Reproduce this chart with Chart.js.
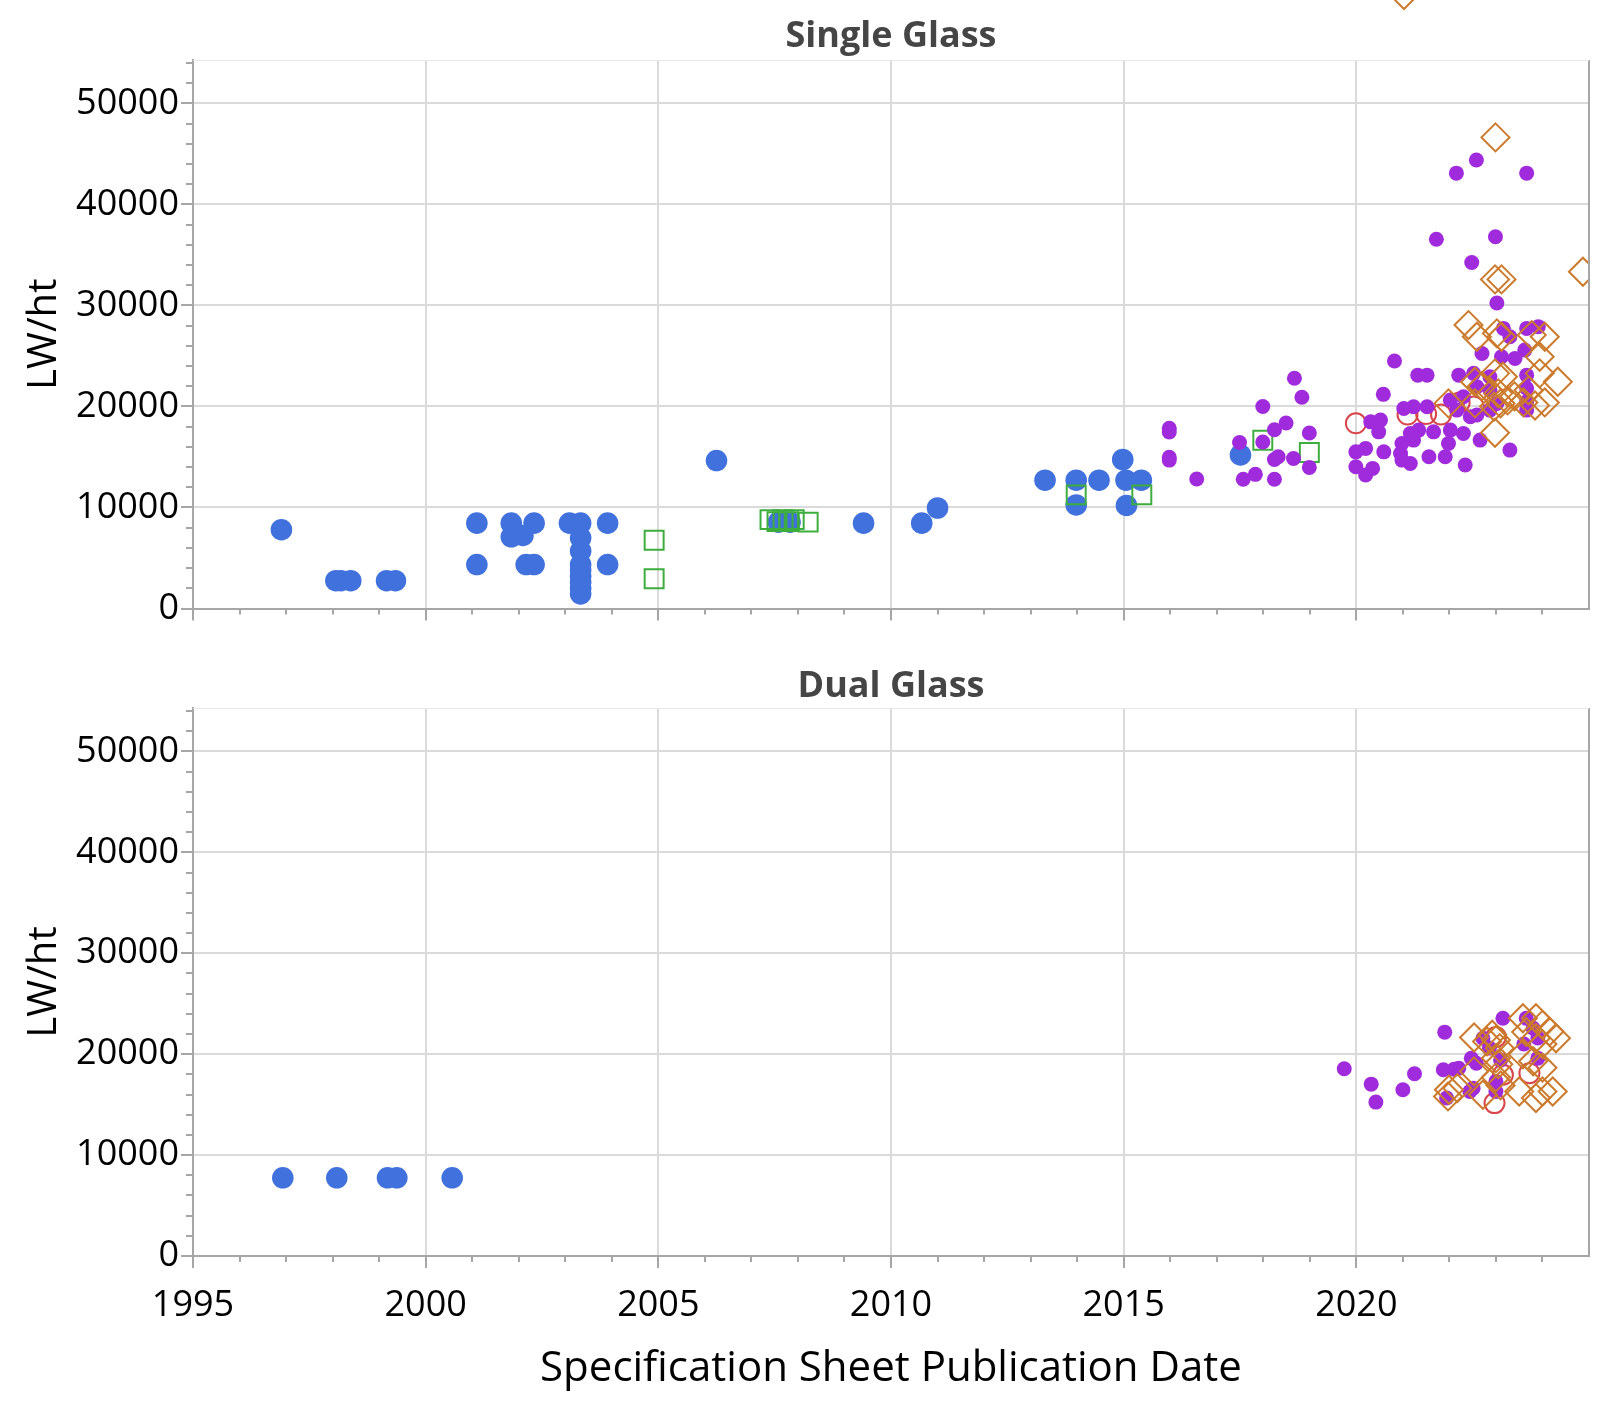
<!DOCTYPE html>
<html>
<head>
<meta charset="utf-8">
<script src="https://cdn.jsdelivr.net/npm/chart.js@4.4.1/dist/chart.umd.min.js"></script>
<style>
  html, body { margin: 0; padding: 0; background: #fff; }
  #wrap { position: relative; width: 1605px; height: 1403px; }
  canvas { position: absolute; left: 0; }
  #singleChart { top: 0; }
  #dualChart { top: 648px; }
</style>
</head>
<body>
<div id="wrap">
  <canvas id="singleChart" width="1605" height="648"></canvas>
  <canvas id="dualChart" width="1605" height="755"></canvas>
</div>
<script>
// axis labels
const yearLabels = [1995, 2000, 2005, 2010, 2015, 2020];
const lwLabels = [0, 10000, 20000, 30000, 40000, 50000];

// ---- single glass modules: [publication year, LW/ht] ----
const singleBlue = [
  [1996.9, 7800],
  [1998.07, 2750], [1998.18, 2750], [1998.39, 2750],
  [1999.16, 2750], [1999.35, 2750],
  [2001.1, 8450], [2001.1, 4350],
  [2001.84, 8450], [2002.33, 8450], [2001.84, 7100], [2002.09, 7230],
  [2002.16, 4350], [2002.33, 4350],
  [2003.09, 8450], [2003.33, 8450], [2003.33, 7000], [2003.33, 5700],
  [2003.33, 4350], [2003.33, 3800], [2003.33, 3200], [2003.33, 2600],
  [2003.33, 2000], [2003.33, 1450],
  [2003.91, 8450], [2003.91, 4350],
  [2006.25, 14650],
  [2007.58, 8550], [2007.83, 8550],
  [2009.41, 8450],
  [2010.66, 8450], [2011.0, 9950],
  [2013.31, 12700], [2013.98, 12700], [2013.98, 10250],
  [2014.47, 12700], [2014.98, 14750],
  [2015.05, 12700], [2015.38, 12700], [2015.06, 10200],
  [2017.51, 15200]
];

const singleGreen = [
  [2004.91, 6750], [2004.91, 2950],
  [2007.40, 8800], [2007.55, 8600], [2007.68, 8800], [2007.80, 8600],
  [2007.92, 8800], [2008.22, 8550],
  [2013.98, 11250], [2015.39, 11250],
  [2017.99, 16650], [2018.99, 15450]
];

const singleRed = [
  [2019.99, 18330], [2021.1, 19200], [2021.5, 19250], [2021.82, 19200],
  [2022.22, 20400], [2022.52, 20000]
];

const singlePurple = [
  [2015.98, 17850], [2015.98, 17480], [2015.98, 14970], [2015.98, 14690],
  [2016.57, 12820],
  [2017.49, 16430], [2017.57, 12790], [2017.83, 13280],
  [2017.99, 20000], [2017.99, 16490],
  [2018.24, 17700], [2018.49, 18360], [2018.24, 14750], [2018.32, 15020],
  [2018.24, 12790], [2018.65, 14850], [2018.67, 22800], [2018.83, 20920],
  [2018.99, 17380], [2018.99, 13970],
  [2022.58, 44400], [2022.15, 43100], [2023.66, 43100],
  [2021.72, 36550], [2022.99, 36800], [2022.48, 34250], [2023.02, 30250],
  [2020.82, 24500], [2021.32, 23100], [2021.52, 23100], [2020.58, 21200],
  [2023.16, 27730], [2023.66, 27730], [2023.91, 27900], [2023.30, 26900],
  [2022.70, 25250], [2023.12, 24920], [2023.41, 24760], [2023.62, 25580],
  [2022.20, 23100], [2022.52, 23280], [2022.87, 22940], [2023.66, 23100],
  [2022.59, 21950], [2022.87, 21620], [2023.66, 21800],
  [2022.02, 20630], [2022.30, 20960], [2023.02, 20300], [2023.66, 20470],
  [2021.02, 19800], [2021.23, 19970], [2021.52, 19970],
  [2022.16, 19640], [2022.45, 18980], [2022.59, 19150], [2022.87, 19640], [2023.66, 19640],
  [2020.31, 18480], [2020.52, 18650], [2020.48, 17490],
  [2021.16, 17330], [2021.34, 17660], [2021.66, 17490], [2022.02, 17660],
  [2022.30, 17330], [2022.66, 16670],
  [2020.98, 16340], [2021.23, 16670], [2021.98, 16340],
  [2019.99, 15510], [2020.20, 15850], [2020.59, 15510], [2020.95, 15350],
  [2021.56, 15020], [2021.91, 15020], [2023.30, 15680],
  [2020.98, 14690], [2021.16, 14360], [2022.34, 14200],
  [2019.99, 14030], [2020.35, 13870], [2020.20, 13210]
];

const singleOrange = [
  [2022.99, 46640], [2022.98, 32580], [2023.12, 32580], [2024.87, 33340],
  [2022.41, 28060], [2022.59, 26900], [2023.02, 27240], [2023.12, 26900],
  [2023.77, 27070], [2024.05, 26900],
  [2023.94, 24920], [2024.33, 22450], [2022.55, 22450], [2022.98, 23280],
  [2023.15, 22940], [2023.94, 23280], [2022.70, 22000],
  [2021.98, 20310], [2022.55, 20310], [2022.96, 20000], [2023.10, 20300],
  [2023.25, 20600], [2023.05, 21300], [2023.40, 21000],
  [2023.59, 20400], [2023.84, 20100], [2024.05, 20400], [2023.70, 21600],
  [2022.98, 17400]
];

// ---- dual glass modules ----
const dualBlue = [
  [1996.93, 7750], [1998.09, 7750], [1999.18, 7750], [1999.38, 7750], [2000.57, 7750]
];

const dualRed = [
  [2022.97, 15150], [2023.15, 17960], [2023.72, 18120], [2023.0, 21700]
];

const dualPurple = [
  [2019.74, 18550], [2020.32, 17030], [2020.42, 15250], [2021.0, 16470], [2021.25, 18060],
  [2021.90, 22180], [2021.87, 18450], [2021.94, 15650], [2022.10, 18500], [2022.20, 18600],
  [2022.47, 19600], [2022.58, 19100], [2022.44, 16300], [2022.51, 16630],
  [2022.72, 21580], [2022.86, 20600], [2023.0, 16300], [2023.0, 17300],
  [2023.15, 23560], [2023.10, 19400],
  [2023.65, 23560], [2023.80, 22570], [2023.60, 21000], [2023.90, 21600], [2023.90, 19600]
];

const dualOrange = [
  [2021.99, 16470], [2021.97, 15810], [2022.17, 16630],
  [2022.53, 21650], [2022.53, 18290],
  [2022.81, 21260], [2022.92, 21920],
  [2023.0, 21400], [2023.08, 20600], [2023.0, 19600], [2023.05, 19000],
  [2023.0, 17700], [2023.10, 16900],
  [2022.72, 15980],
  [2023.58, 23560], [2023.86, 23560], [2024.0, 22900], [2024.15, 22240], [2024.29, 21580],
  [2023.65, 22200], [2023.86, 21600], [2024.0, 21000],
  [2023.58, 19980], [2023.80, 19300], [2024.0, 18660],
  [2023.50, 16300], [2023.86, 15650], [2024.0, 16300], [2024.22, 16300]
];

const FONT = "'Open Sans', 'Noto Sans', sans-serif";
const AXIS_GREY = '#a6a6a6';
const GRID_GREY = '#dadada';

const BLUE = '#4171dc';
const GREEN = '#3dae3d';
const RED = '#d8454a';
const PURPLE = '#a02bdc';
const ORANGE = '#cc7a2b';

const toPoints = (rows) => rows.map(([x, y]) => ({ x, y }));

function filled(data, color, r) {
  return {
    data: toPoints(data), clip: 0,
    pointStyle: 'circle', pointRadius: r, pointHoverRadius: r,
    pointBackgroundColor: color, pointBorderWidth: 0
  };
}

function hollow(data, color, style, r) {
  return {
    data: toPoints(data), clip: 0,
    pointStyle: style, pointRadius: r, pointHoverRadius: r,
    pointBackgroundColor: 'rgba(0,0,0,0)', pointBorderColor: color,
    pointBorderWidth: 2, pointHoverBorderWidth: 2
  };
}

// minor tick marks + the frame on top/right of the plot
const frameAndMinorTicks = {
  id: 'frameAndMinorTicks',
  afterDraw(chart) {
    const { ctx, chartArea: a, scales: { x, y } } = chart;
    ctx.save();
    ctx.strokeStyle = AXIS_GREY;
    ctx.lineWidth = 2;
    ctx.beginPath();
    for (let v = 1996; v < 2025; v++) {
      if (v % 5 === 0) continue;
      const px = Math.round(x.getPixelForValue(v));
      ctx.moveTo(px, a.bottom);
      ctx.lineTo(px, a.bottom + 6);
    }
    for (let v = 2000; v <= 54000; v += 2000) {
      if (v % 10000 === 0) continue;
      const py = Math.round(y.getPixelForValue(v));
      ctx.moveTo(a.left, py);
      ctx.lineTo(a.left - 7, py);
    }
    ctx.stroke();

    ctx.beginPath();
    ctx.moveTo(a.right, a.top);
    ctx.lineTo(a.right, a.bottom);
    ctx.stroke();

    ctx.strokeStyle = '#e8e8e8';
    ctx.lineWidth = 1;
    ctx.beginPath();
    ctx.moveTo(a.left, a.top + 0.5);
    ctx.lineTo(a.right, a.top + 0.5);
    ctx.stroke();
    ctx.restore();
  }
};

// legend marker sitting at the top edge of the page
const legendMarker = {
  id: 'legendMarker',
  afterDraw(chart) {
    const ctx = chart.ctx;
    const cx = 1404, cy = -5, r = 14;
    ctx.save();
    ctx.strokeStyle = ORANGE;
    ctx.lineWidth = 2;
    ctx.beginPath();
    ctx.moveTo(cx - r, cy);
    ctx.lineTo(cx, cy - r);
    ctx.lineTo(cx + r, cy);
    ctx.lineTo(cx, cy + r);
    ctx.closePath();
    ctx.stroke();
    ctx.restore();
  }
};

function makeOptions(title, titlePad, showX) {
  return {
    responsive: false,
    animation: false,
    devicePixelRatio: 1,
    layout: { padding: { left: 0, right: 10, top: 0, bottom: 0 } },
    plugins: {
      legend: { display: false },
      tooltip: { enabled: false },
      title: {
        display: true, text: title, fullSize: false,
        color: '#454545', padding: titlePad,
        font: { family: FONT, size: 36, weight: 'bold', lineHeight: 1.15 }
      }
    },
    scales: {
      x: {
        type: 'linear', min: 1995, max: 2025,
        afterBuildTicks: (s) => { s.ticks = yearLabels.map((v) => ({ value: v })); },
        afterFit: (s) => { s.height = showX ? 147 : 39.5; },
        ticks: {
          display: showX, autoSkip: false, maxRotation: 0, minRotation: 0,
          padding: 15.7, color: '#000',
          font: { family: FONT, size: 36, lineHeight: 1.2 },
          callback: (v) => String(v)
        },
        grid: { color: GRID_GREY, lineWidth: 2, tickLength: 12, tickColor: AXIS_GREY, tickWidth: 2 },
        border: { display: true, color: AXIS_GREY, width: 2 },
        title: {
          display: showX, text: 'Specification Sheet Publication Date', color: '#000',
          font: { family: FONT, size: 42, lineHeight: 1.2 },
          padding: { top: 0, bottom: 8.8 }
        }
      },
      y: {
        type: 'linear', min: 0, max: 54300,
        afterBuildTicks: (s) => { s.ticks = lwLabels.map((v) => ({ value: v })); },
        afterFit: (s) => { s.width = 193; },
        ticks: {
          padding: 2, color: '#000',
          font: { family: FONT, size: 36, lineHeight: 1.2 },
          callback: (v) => String(v)
        },
        grid: { color: GRID_GREY, lineWidth: 2, tickLength: 12, tickColor: AXIS_GREY, tickWidth: 2 },
        border: { display: true, color: AXIS_GREY, width: 2 },
        title: {
          display: true, text: 'LW/ht', color: '#000',
          font: { family: FONT, size: 40, lineHeight: 1.2 },
          padding: { top: 20.5, bottom: 0 }
        }
      }
    }
  };
}

// first dataset is drawn on top
new Chart(document.getElementById('singleChart'), {
  type: 'scatter',
  data: {
    datasets: [
      hollow(singleOrange, ORANGE, 'rectRot', 14),
      filled(singlePurple, PURPLE, 7.5),
      hollow(singleRed, RED, 'circle', 10),
      hollow(singleGreen, GREEN, 'rect', 13.4),
      filled(singleBlue, BLUE, 10.8)
    ]
  },
  options: makeOptions('Single Glass', { top: 15.9, bottom: 2.7 }, false),
  plugins: [frameAndMinorTicks, legendMarker]
});

new Chart(document.getElementById('dualChart'), {
  type: 'scatter',
  data: {
    datasets: [
      hollow(dualOrange, ORANGE, 'rectRot', 14),
      filled(dualPurple, PURPLE, 7.5),
      hollow(dualRed, RED, 'circle', 10),
      filled(dualBlue, BLUE, 10.8)
    ]
  },
  options: makeOptions('Dual Glass', { top: 17.9, bottom: 0.7 }, true),
  plugins: [frameAndMinorTicks]
});
</script>
</body>
</html>
